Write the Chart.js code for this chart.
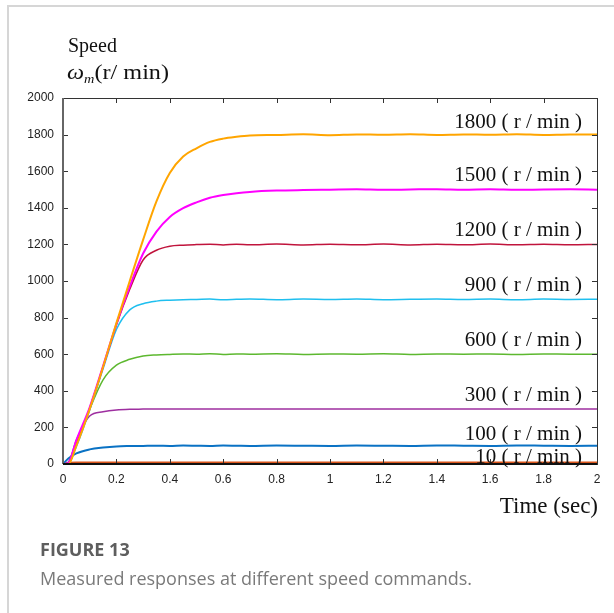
<!DOCTYPE html>
<html>
<head>
<meta charset="utf-8">
<script src="https://cdn.jsdelivr.net/npm/chart.js@4.4.0/dist/chart.umd.min.js"></script>
<style>
  html, body { margin: 0; padding: 0; background: #fff; }
  #page { position: relative; width: 614px; height: 613px; overflow: hidden; }
  #card { position: absolute; left: 7px; top: 5px; right: -10px; bottom: -10px;
          border-top: 2px solid #d6d6d6; border-left: 2px solid #d6d6d6; }
  #chartBox { position: absolute; left: 0; top: 0; width: 614px; height: 613px; }
  .serif { position: absolute; font-family: "Liberation Serif", "Times New Roman", serif; color: #111; white-space: nowrap; line-height: 1; }
  .cap { position: absolute; left: 40px; font-family: "Open Sans", sans-serif; white-space: nowrap; line-height: 1; }
</style>
</head>
<body>
<div id="page">
  <div id="card"></div>
  <div id="chartBox"><canvas id="speedChart" width="614" height="613"></canvas></div>
  <div class="serif" style="left:68px; top:35px; font-size:20px;">Speed</div>
  <div class="serif" style="left:67px; top:61px; font-size:22px; transform:scaleX(1.1); transform-origin:left top;"><i>ω</i><sub style="font-size:13px; font-style:italic; vertical-align:-4px;">m</sub>(r/ min)</div>
  <div class="serif" style="right:16px; top:494px; font-size:23px;">Time (sec)</div>
  <div class="cap" style="top:540px; font-size:18px; font-weight:700; color:#5e5e5e;">FIGURE 13</div>
  <div class="cap" style="top:569px; font-size:18px; color:#7a7a7a;">Measured responses at different speed commands.</div>
</div>
<script>
// time axis (sec)
const time = [0, 0.02, 0.05, 0.1, 0.15, 0.2, 0.25, 0.3, 0.35, 0.4, 0.45, 0.5, 0.55, 0.6, 0.65, 0.7, 0.8, 0.9, 1.0, 1.1, 1.2, 1.3, 1.4, 1.5, 1.6, 1.7, 1.8, 1.9, 2.0];

// measured speed (r/min) for each command
const speed1800 = [0, 0, 100, 300, 530, 770, 1000, 1225, 1435, 1590, 1680, 1725, 1760, 1778, 1788, 1795, 1798, 1802, 1797, 1801, 1799, 1802, 1798, 1801, 1799, 1802, 1798, 1801, 1800];
const speed1500 = [0, 5, 130, 310, 535, 765, 970, 1150, 1270, 1350, 1398, 1430, 1455, 1470, 1480, 1487, 1494, 1497, 1499, 1501, 1498, 1500, 1502, 1499, 1501, 1498, 1500, 1501, 1499];
const speed1200 = [0, 5, 110, 305, 530, 760, 955, 1115, 1168, 1190, 1196, 1199, 1201, 1197, 1201, 1198, 1202, 1197, 1201, 1198, 1202, 1197, 1201, 1198, 1202, 1198, 1201, 1198, 1200];
const speed900 = [0, 5, 95, 295, 520, 735, 842, 876, 890, 895, 898, 899, 901, 898, 900, 902, 898, 901, 899, 902, 898, 900, 902, 899, 901, 898, 901, 899, 900];
const speed600 = [0, 0, 105, 300, 460, 540, 572, 590, 596, 599, 601, 600, 602, 599, 601, 600, 602, 599, 601, 600, 602, 599, 601, 600, 601, 599, 601, 600, 600];
const speed300 = [0, 10, 130, 262, 285, 295, 299, 300, 301, 300, 301, 300, 301, 300, 300, 301, 300, 300, 301, 300, 300, 301, 300, 300, 301, 300, 300, 301, 300];
const speed100 = [0, 30, 58, 80, 90, 96, 98, 99, 100, 99, 101, 100, 99, 101, 100, 99, 101, 100, 99, 101, 100, 99, 101, 100, 99, 101, 100, 99, 100];
const speed10 = [0, 8, 10, 10, 10, 10, 10, 10, 10, 10, 10, 10, 10, 10, 10, 10, 10, 10, 10, 10, 10, 10, 10, 10, 10, 10, 10, 10, 10];

// command labels and the speed value where each label sits
const cmdLabels = ["1800 ( r / min )", "1500 ( r / min )", "1200 ( r / min )", "900 ( r / min )", "600 ( r / min )", "300 ( r / min )", "100 ( r / min )", "10 ( r / min )"];
const cmdLabelAt = [1838, 1549, 1244, 945, 644, 344, 131, 5];

const xTicks = [0, 0.2, 0.4, 0.6, 0.8, 1, 1.2, 1.4, 1.6, 1.8, 2];
const yTicks = [0, 200, 400, 600, 800, 1000, 1200, 1400, 1600, 1800, 2000];

function toPoints(arr) {
  return arr.map((v, i) => ({ x: time[i], y: v }));
}

const series = [
  { data: speed1800, color: "#FFA500", w: 2 },
  { data: speed1500, color: "#FF00FF", w: 2 },
  { data: speed1200, color: "#C0143C", w: 1.5 },
  { data: speed900, color: "#1FBFEF", w: 1.5 },
  { data: speed600, color: "#5DB82F", w: 1.5 },
  { data: speed300, color: "#9E2FA0", w: 1.5 },
  { data: speed100, color: "#0A72C4", w: 2 },
  { data: speed10, color: "#D9541A", w: 1.5 },
];

// inward ticks on all four sides, plot frame and the command labels
const framePlugin = {
  id: "frame",
  afterDraw(chart) {
    const ctx = chart.ctx;
    const a = chart.chartArea;
    const xs = chart.scales.x, ys = chart.scales.y;
    ctx.save();
    ctx.strokeStyle = "#333";
    ctx.lineWidth = 1;
    xTicks.forEach(t => {
      const px = Math.round(xs.getPixelForValue(t)) + 0.5;
      ctx.beginPath();
      ctx.moveTo(px, a.bottom); ctx.lineTo(px, a.bottom - 5);
      ctx.moveTo(px, a.top); ctx.lineTo(px, a.top + 5);
      ctx.stroke();
    });
    yTicks.forEach(t => {
      const py = Math.round(ys.getPixelForValue(t)) + 0.5;
      ctx.beginPath();
      ctx.moveTo(a.left, py); ctx.lineTo(a.left + 5, py);
      ctx.moveTo(a.right, py); ctx.lineTo(a.right - 5, py);
      ctx.stroke();
    });
    ctx.strokeRect(a.left + 0.5, a.top + 0.5, a.right - a.left, a.bottom - a.top);
    // heavier left and bottom axes
    ctx.lineWidth = 2;
    ctx.strokeStyle = "#666";
    ctx.beginPath(); ctx.moveTo(a.left, a.top); ctx.lineTo(a.left, a.bottom); ctx.stroke();
    ctx.strokeStyle = "#111";
    ctx.beginPath(); ctx.moveTo(a.left, a.bottom); ctx.lineTo(a.right, a.bottom); ctx.stroke();

    ctx.fillStyle = "#111";
    ctx.font = "21px 'Liberation Serif', 'Times New Roman', serif";
    ctx.textAlign = "right";
    ctx.textBaseline = "alphabetic";
    cmdLabels.forEach((txt, i) => {
      ctx.fillText(txt, a.right - 15, ys.getPixelForValue(cmdLabelAt[i]));
    });
    ctx.restore();
  }
};

const ctx = document.getElementById("speedChart").getContext("2d");
new Chart(ctx, {
  type: "line",
  data: {
    datasets: series.map(s => ({
      data: toPoints(s.data),
      borderColor: s.color,
      backgroundColor: s.color,
      borderWidth: s.w,
      pointRadius: 0,
      fill: false,
      cubicInterpolationMode: "monotone",
    })),
  },
  options: {
    responsive: false,
    animation: false,
    events: [],
    layout: { padding: { left: 0, top: 98, right: 17, bottom: 0 } },
    plugins: { legend: { display: false }, tooltip: { enabled: false } },
    scales: {
      x: {
        type: "linear",
        min: 0,
        max: 2,
        afterFit(scale) { scale.height = 149; },
        afterBuildTicks(scale) { scale.ticks = xTicks.map(v => ({ value: v })); },
        grid: { display: false, drawTicks: false },
        border: { display: false },
        ticks: {
          padding: 8,
          color: "#222",
          font: { family: "'Liberation Sans', Arial, sans-serif", size: 12 },
          maxRotation: 0,
          callback: v => String(v),
        },
      },
      y: {
        min: 0,
        max: 2000,
        afterFit(scale) { scale.width = 63; },
        afterBuildTicks(scale) { scale.ticks = yTicks.map(v => ({ value: v })); },
        grid: { display: false, drawTicks: false },
        border: { display: false },
        ticks: {
          padding: 9,
          color: "#222",
          font: { family: "'Liberation Sans', Arial, sans-serif", size: 12 },
          callback: v => String(v),
        },
      },
    },
  },
  plugins: [framePlugin],
});
</script>
</body>
</html>
